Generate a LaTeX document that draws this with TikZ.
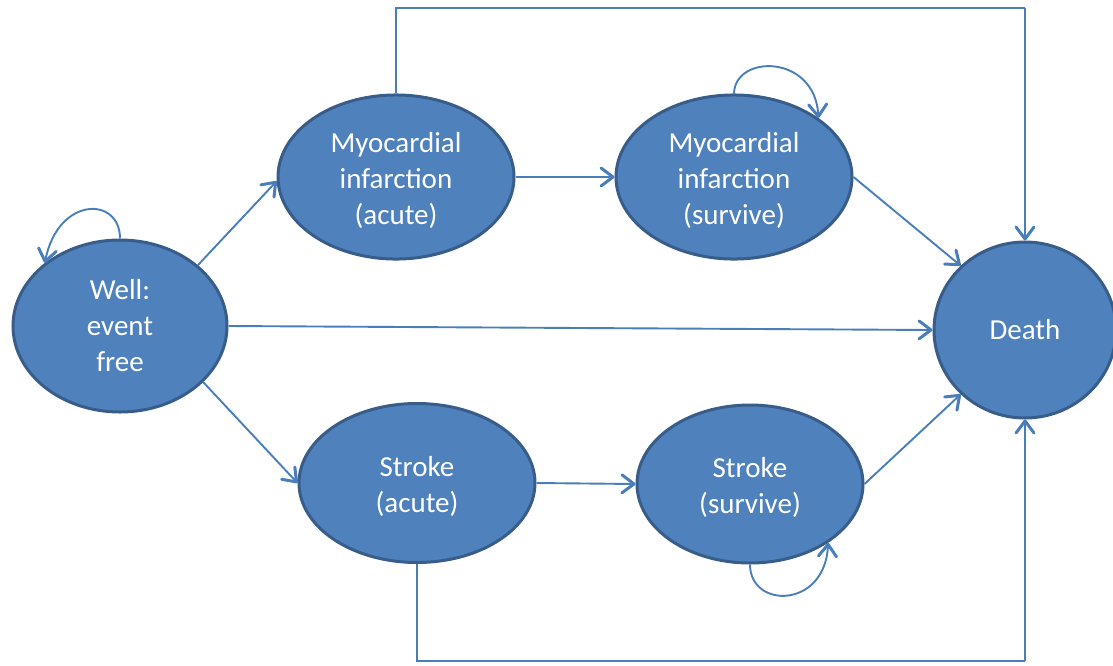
\documentclass[tikz,border=0pt]{standalone}
\usepackage{fontspec}
\setmainfont{Carlito}
\usetikzlibrary{shapes.geometric,arrows.meta}
\definecolor{statefill}{HTML}{4F81BD}
\definecolor{stateline}{HTML}{385D8A}
\definecolor{flow}{HTML}{4A7EBB}
% multi-line label with extra room on top, so it sits a little below the centre
\newcommand{\lowlabel}[1]{\raisebox{0pt}[\dimexpr\height+8pt\relax][\depth]{\begin{tabular}{@{}c@{}}#1\end{tabular}}}
\begin{document}
\begin{tikzpicture}[x=1pt,y=-1pt,
  state/.style={ellipse,fill=statefill,draw=stateline,line width=3pt,
    text=white,align=center,inner sep=0pt,
    font=\fontsize{29}{36}\selectfont},
  flowline/.style={draw=flow,line width=1.9pt,
    -{Straight Barb[length=12pt,width=18pt,line width=3pt,round]}},
  plainline/.style={draw=flow,line width=1.9pt}]
\useasboundingbox (0,0) rectangle (1113,665);

% states
\node[state,minimum width=214pt,minimum height=172pt] (well) at (120,326) {Well:\\event\\free};
\node[state,minimum width=236pt,minimum height=157pt] (mia) at (396,177) {\lowlabel{Myocardial\\infarction\\(acute)}};
\node[state,minimum width=236pt,minimum height=158pt] (mis) at (734,177) {\lowlabel{Myocardial\\infarction\\(survive)}};
\node[state,minimum width=236pt,minimum height=159pt] (sa) at (417,483) {\lowlabel{Stroke\\(acute)}};
\node[state,minimum width=226pt,minimum height=158pt] (ss) at (750,484) {\lowlabel{Stroke\\(survive)}};
\node[state,minimum width=182pt,minimum height=176pt] (death) at (1025,330) {Death};

% routed corners for the long transitions
\coordinate (topcorner) at (1025,8);
\coordinate (botcorner) at (1025,661);

% transitions
\draw[flowline] (well.38) -- (mia.182);
\draw[flowline] (well.east) -- (death.west);
\draw[flowline] (well.-34) -- (sa.west);
\draw[flowline] (mia.east) -- (mis.west);
\draw[flowline] (sa.east) -- (ss.west);
\draw[flowline] (mis.east) -- (death.135);
\draw[flowline] (ss.east) -- (death.225);
\draw[plainline] (mia.north) |- (topcorner);
\draw[flowline] (topcorner) -- (death.north);
\draw[plainline] (sa.south) |- (botcorner);
\draw[flowline] (botcorner) -- (death.south);

% self-loops
\draw[flowline] (well.north) .. controls (120,196) and (58,196) .. (well.140);
\draw[flowline] (mis.north) .. controls (735,54) and (815,54) .. (mis.35);
\draw[flowline] (ss.south) .. controls (750,609) and (825,609) .. (ss.-37);
\end{tikzpicture}
\end{document}
